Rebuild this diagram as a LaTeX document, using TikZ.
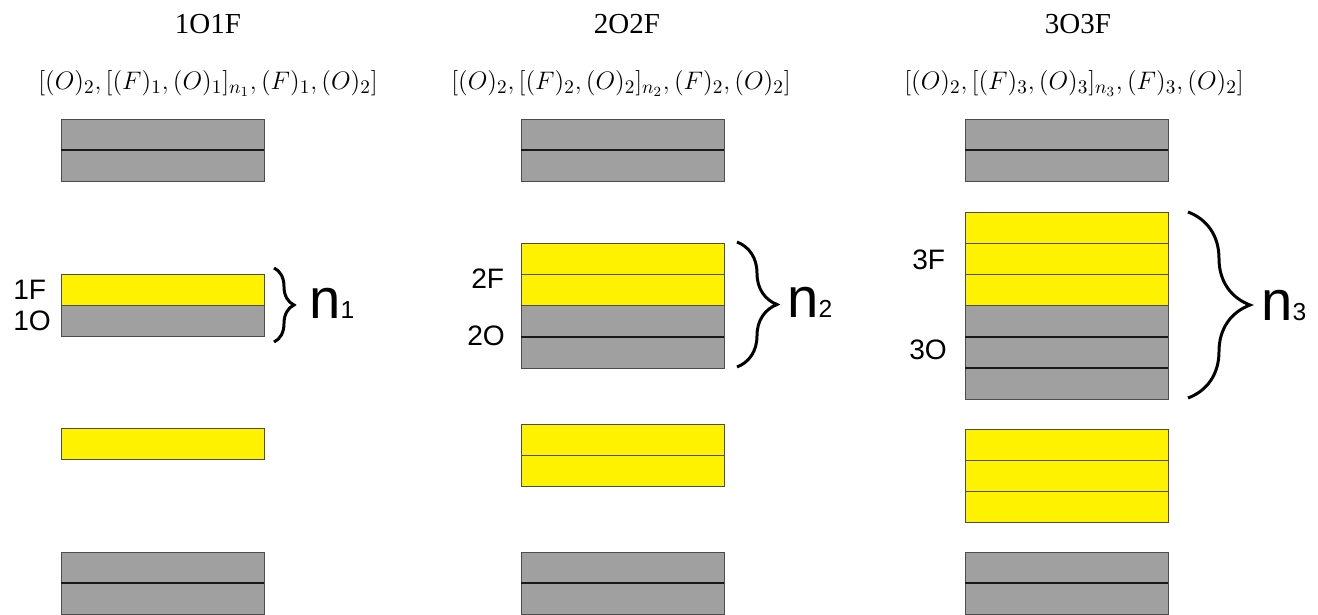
\documentclass[tikz,border=0pt]{standalone}
\usepackage{fontspec}
\setmainfont{Liberation Serif}
\newfontfamily\arialfont{Liberation Sans}
\definecolor{oxgray}{HTML}{A0A0A0}
\usetikzlibrary{positioning}
\usetikzlibrary{decorations.pathreplacing}

\begin{document}
\begin{tikzpicture}[x=0.02cm,y=-0.02cm,
	lay/.style={draw=black!70, line width=0.5pt, minimum width=4.06cm, minimum height=0.625cm, inner sep=0pt, outer sep=0pt, anchor=north west},
	ox/.style={lay, fill=oxgray},
	fe/.style={lay, fill=yellow},
	sep/.style={line width=1.1pt, black!90},
	brc/.style={decorate, decoration={brace, amplitude=#1}, line width=1.7pt},
	lab/.style={font=\arialfont\fontsize{16}{16}\selectfont, inner sep=0pt, anchor=west},
	nlab/.style={font=\arialfont\fontsize{32}{32}\selectfont, inner sep=0pt, anchor=base west},
	ttl/.style={font=\fontsize{16.5}{17}\selectfont, inner sep=0pt},
	frm/.style={font=\fontsize{15.4}{17}\selectfont, inner sep=0pt}]
	\clip (0,0) rectangle (1318,615);
	\fill[white] (0,0) rectangle (1318,615);
	% headers
	\node[ttl] (t1) at (208,24) {1O1F};
	\node[ttl] (t2) at (627,24) {2O2F};
	\node[ttl] (t3) at (1078,24) {3O3F};
	\node[frm] (f1) at (208,83) {$\Big[(O)_2,[(F)_1,(O)_1]_{n_1},(F)_1,(O)_2\Big]$};
	\node[frm] (f2) at (621,83) {$\Big[(O)_2,[(F)_2,(O)_2]_{n_2},(F)_2,(O)_2\Big]$};
	\node[frm] (f3) at (1074,83) {$\Big[(O)_2,[(F)_3,(O)_3]_{n_3},(F)_3,(O)_2\Big]$};
	% 1O1F
	\node[ox] (a1) at (61,119) {};
	\node[ox, below=0pt of a1] (a2) {};
	\draw[sep] (a1.south west) -- (a1.south east);
	\node[fe] (a3) at (61,274) {};
	\node[ox, below=0pt of a3] (a4) {};
	\node[fe] (a5) at (61,428) {};
	\node[ox] (a6) at (61,552) {};
	\node[ox, below=0pt of a6] (a7) {};
	\draw[sep] (a6.south west) -- (a6.south east);
	\node[lab] (l1f) at (13,290) {1F};
	\node[lab] (l1o) at (13,321) {1O};
	\draw[brc=0.4cm] (274,268) -- (274,342);
	\node[nlab] (n1) at (309,318) {n{\fontsize{14}{14}\selectfont 1}};
	% 2O2F
	\node[ox] (b1) at (521,119) {};
	\node[ox, below=0pt of b1] (b2) {};
	\draw[sep] (b1.south west) -- (b1.south east);
	\node[fe] (b3) at (521,243) {};
	\node[fe, below=0pt of b3] (b4) {};
	\node[ox, below=0pt of b4] (b5) {};
	\node[ox, below=0pt of b5] (b6) {};
	\draw[sep] (b5.south west) -- (b5.south east);
	\node[fe] (b7) at (521,424) {};
	\node[fe, below=0pt of b7] (b8) {};
	\node[ox] (b9) at (521,552) {};
	\node[ox, below=0pt of b9] (b10) {};
	\draw[sep] (b9.south west) -- (b9.south east);
	\node[lab] (l2f) at (471,279) {2F};
	\node[lab] (l2o) at (467,336) {2O};
	\draw[brc=0.8cm] (737,242) -- (737,367);
	\node[nlab] (n2) at (787,317) {n{\fontsize{14}{14}\selectfont 2}};
	% 3O3F
	\node[ox] (c1) at (965,119) {};
	\node[ox, below=0pt of c1] (c2) {};
	\draw[sep] (c1.south west) -- (c1.south east);
	\node[fe] (c3) at (965,212) {};
	\node[fe, below=0pt of c3] (c4) {};
	\node[fe, below=0pt of c4] (c5) {};
	\node[ox, below=0pt of c5] (c6) {};
	\node[ox, below=0pt of c6] (c7) {};
	\node[ox, below=0pt of c7] (c8) {};
	\draw[sep] (c6.south west) -- (c6.south east);
	\draw[sep] (c7.south west) -- (c7.south east);
	\node[fe] (c9) at (965,429) {};
	\node[fe, below=0pt of c9] (c10) {};
	\node[fe, below=0pt of c10] (c11) {};
	\node[ox] (c12) at (965,552) {};
	\node[ox, below=0pt of c12] (c13) {};
	\draw[sep] (c12.south west) -- (c12.south east);
	\node[lab] (l3f) at (912,260) {3F};
	\node[lab] (l3o) at (909,350) {3O};
	\draw[brc=1.24cm] (1188,212) -- (1188,398);
	\node[nlab] (n3) at (1261,320) {n{\fontsize{14}{14}\selectfont 3}};
\end{tikzpicture}
\end{document}
